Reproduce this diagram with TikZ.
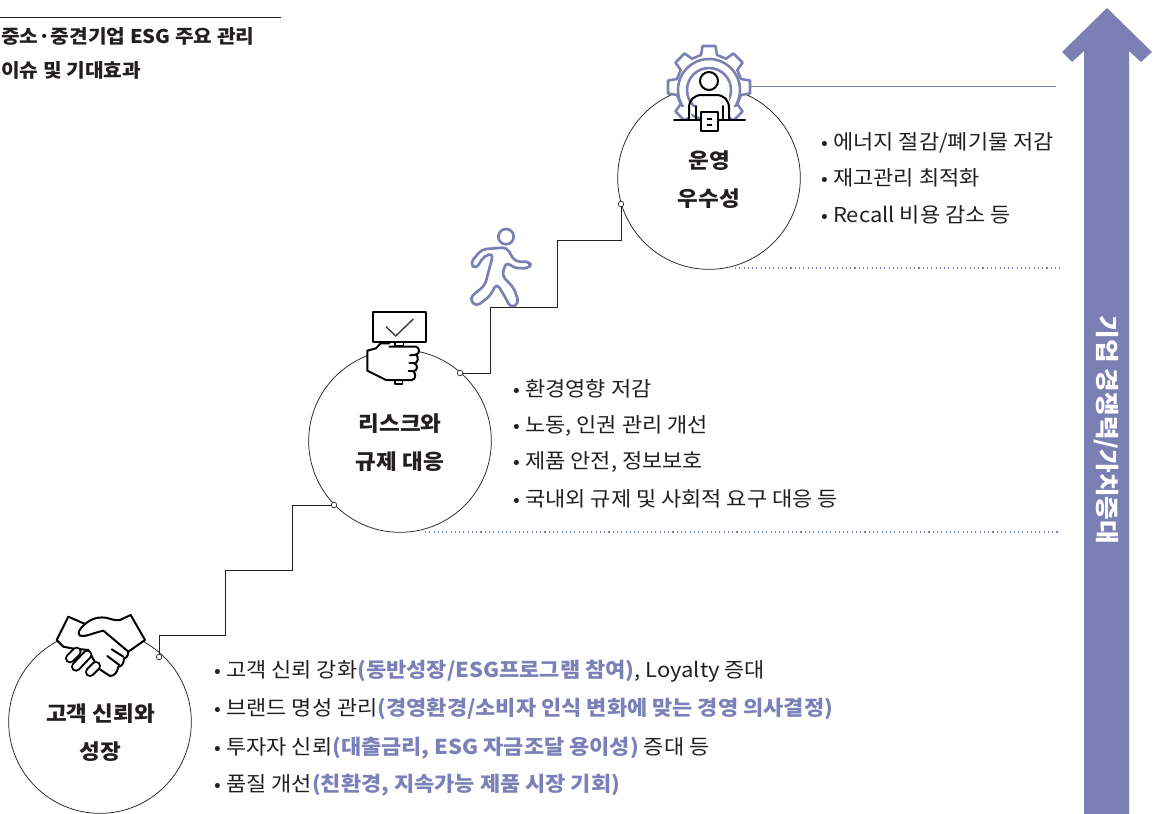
\documentclass[tikz,border=0pt]{standalone}
\usepackage{fontspec}
\setmainfont[FakeStretch=1.07]{Noto Sans CJK KR}
\definecolor{vio}{HTML}{7A7FB4}
\definecolor{viotext}{HTML}{7B80B8}
\definecolor{ink}{HTML}{231F20}
\newcommand{\hl}[1]{{\bfseries\color{viotext}#1}}
\newcommand{\bul}{\makebox[9pt][l]{\fontsize{14}{14}\selectfont •}}
\tikzset{
  stage/.style={circle,draw=ink,line width=0.55pt,minimum size=137pt,inner sep=0pt},
  stagetext/.style={inner sep=0pt,align=center,font=\fontsize{15.8}{28.5}\selectfont\bfseries,text=ink},
  stepline/.style={draw=ink,line width=0.6pt},
  joint/.style={circle,draw=ink,fill=white,line width=0.5pt,minimum size=4.2pt,inner sep=0pt},
  item/.style={anchor=base west,inner sep=0pt,text=ink,font=\fontsize{15.4}{16}\selectfont},
  heading/.style={anchor=base west,inner sep=0pt,text=ink,font=\fontsize{14.2}{15}\selectfont\bfseries},
  dotrule/.style={draw=vio,line width=0.8pt,dash pattern=on 0.8pt off 2.4pt},
  icon/.style={draw=black,line width=1.5pt,line join=round,line cap=round},
  vicon/.style={draw=vio,line width=1.9pt,line join=round,line cap=round},
}
\begin{document}
\begin{tikzpicture}[x=0.75pt,y=-0.75pt]
\useasboundingbox (0,0) rectangle (1158,814);
% heading
\coordinate (ruleA) at (0,17); \coordinate (ruleB) at (281,17);
\draw[ink,line width=0.5pt] (ruleA) -- (ruleB);
\node[heading] (t1) at (1,43) {중소·중견기업 ESG 주요 관리};
\node[heading] (t2) at (1,77) {이슈 및 기대효과};
% big arrow
\fill[vio] (1107,8) -- (1152,52) -- (1141,62) -- (1129,51) -- (1129,814) -- (1084,814) -- (1084,51) -- (1072,62) -- (1062,52) -- cycle;
\node[rotate=-90,text=white,font=\fontsize{18}{20}\selectfont\bfseries,inner sep=0pt] (arrowlabel) at (1106,430) {기업 경쟁력/가치증대};
% dotted and solid rules
\coordinate (d1a) at (735,268); \coordinate (d1b) at (1060,268);
\coordinate (d2a) at (425,532); \coordinate (d2b) at (1060,532);
\coordinate (p1a) at (751,86); \coordinate (p1b) at (1056,86);
\draw[dotrule] (d1a) -- (d1b);
\draw[dotrule] (d2a) -- (d2b);
\draw[vio,line width=0.7pt] (p1a) -- (p1b);
% circles
\node[stage] (c1) at (100,722) {};
\node[stage] (c2) at (400,441) {};
\node[stage] (c3) at (709,178) {};
\node[stagetext] (c1t) at (100.5,733) {고객 신뢰와\\성장};
\node[stagetext] (c2t) at (400,443) {리스크와\\규제 대응};
\node[stagetext] (c3t) at (709,179.5) {운영\\우수성};
% steps
\node[joint] (j1) at (159,657) {};
\node[joint] (j2) at (334,505) {};
\node[joint] (j3) at (460,373) {};
\node[joint] (j4) at (621,204) {};
\draw[stepline] (j1) -- (159,635) -- (225,635) -- (225,570) -- (292,570) -- (292,505) -- (j2);
\draw[stepline] (j3) -- (490,373) -- (490,307) -- (557,307) -- (557,240) -- (621,240) -- (j4);
% texts
\node[item] (a1) at (821,149) {\bul 에너지 절감/폐기물 저감};
\node[item] (a2) at (821,185) {\bul 재고관리 최적화};
\node[item] (a3) at (821,222) {\bul Recall 비용 감소 등};
\node[item] (b1) at (513,396) {\bul 환경영향 저감};
\node[item] (b2) at (513,432) {\bul 노동, 인권 관리 개선};
\node[item] (b3) at (513,468) {\bul 제품 안전, 정보보호};
\node[item] (b4) at (513,506) {\bul 국내외 규제 및 사회적 요구 대응 등};
\node[item] (e1) at (214,677) {\bul 고객 신뢰 강화\hl{(동반성장/ESG프로그램 참여)}, Loyalty 증대};
\node[item] (e2) at (214,715) {\bul 브랜드 명성 관리\hl{(경영환경/소비자 인식 변화에 맞는 경영 의사결정)}};
\node[item] (e3) at (214,754) {\bul 투자자 신뢰\hl{(대출금리, ESG 자금조달 용이성)} 증대 등};
\node[item] (e4) at (214,791) {\bul 품질 개선\hl{(친환경, 지속가능 제품 시장 기회)}};
% gear icon
\begin{scope}
\clip (660,40) rectangle (760,120);
\begin{scope}[shift={(709,87)}]
\draw[vicon,fill=white] (-14:33)
  \foreach \a in {0,45,...,315}{ -- ({\a-14}:33) -- ({\a-9}:41.5) -- ({\a+9}:41.5) -- ({\a+14}:33) } -- cycle;
\end{scope}
\begin{scope}
\clip (660,40) rectangle (760,106);
\draw[vicon] (709,90) circle (31);
\draw[vicon] (709,90) circle (22);
\end{scope}
\end{scope}
\fill[white] (689,120) -- (689,108) arc[start angle=180,end angle=90,radius=13] -- (716,95) arc[start angle=90,end angle=0,radius=13] -- (729,120) -- cycle;
\fill[white] (709,81) circle (11);
\draw[icon] (709,81) circle (9);
\draw[icon] (689,120) -- (689,108) .. controls (689,100) and (694,95) .. (702,95) -- (716,95) .. controls (724,95) and (729,100) .. (729,108) -- (729,120);
\draw[icon] (696,106) -- (696,120);
\draw[icon] (723,106) -- (723,120);
\draw[icon] (674,120) -- (745,120);
\draw[icon,fill=white] (701,112) rectangle (718,131);
\draw[icon,line width=1.3pt,line cap=butt] (707,119) -- (712,119);
\draw[icon,line width=1.3pt,line cap=butt] (707,125) -- (712,125);
% runner
\begin{scope}[shift={(350,220)},x=0.25pt,y=-0.25pt]
\draw[vicon,line width=2pt] (468,50) circle (23);
\draw[vicon,line width=2pt,rounded corners=3.5pt,fill=white]
 (395,88) -- (360,130) -- (377,148) -- (402,108) -- (430,100) -- (405,195) -- (358,235) -- (378,260) -- (420,228) -- (440,190) -- (466,232) -- (482,264) -- (507,250) -- (492,205) -- (455,165) -- (470,125) -- (490,144) -- (540,145) -- (542,125) -- (495,125) -- (470,82) -- cycle;
\end{scope}
% sign in fist
\begin{scope}[shift={(350,220)},x=0.25pt,y=-0.25pt]
\draw[icon,fill=white,line cap=butt] (68,277) rectangle (228,367);
\draw[draw=ink!85,line width=1.1pt,line join=miter] (108,320) -- (137,348) -- (190,297);
\draw[icon,fill=white,line width=1.2pt] (135,367) rectangle (160,378);
\draw[icon,fill=white,line width=1.2pt] (135,480) rectangle (158,492);
\draw[icon,fill=white] (118,370) -- (92,370) -- (78,385) -- (52,392) -- (52,452) -- (72,462) -- (108,480) -- (186,480) .. controls (198,478) and (198,460) .. (190,454) .. controls (204,452) and (204,434) .. (193,430) .. controls (206,428) and (206,410) .. (198,404) .. controls (210,402) and (210,382) .. (198,380) -- (118,380);
\draw[icon] (198,404) -- (180,406);
\draw[icon] (193,430) -- (178,430);
\draw[icon] (190,454) -- (176,454);
\end{scope}
% handshake
\begin{scope}[shift={(30,590)},x=0.25pt,y=-0.25pt]
\draw[icon,fill=white] (80,150) -- (115,80) -- (165,102) .. controls (185,85) and (210,78) .. (235,85) .. controls (250,90) and (262,92) .. (270,90) -- (302,75) -- (345,150) -- (295,185) .. controls (295,195) and (290,205) .. (282,205) .. controls (282,220) and (275,230) .. (265,230) .. controls (262,245) and (255,258) .. (240,258) -- (205,235) -- (175,180) -- (125,175) -- (100,170) -- cycle;
\draw[icon] (165,102) .. controls (150,115) and (140,130) .. (150,137) .. controls (165,142) and (185,130) .. (220,122) -- (295,185);
\draw[icon] (245,178) -- (280,200);
\draw[icon] (232,198) -- (268,225);
\foreach \xa/\ya/\xb/\yb in {120/205/140/185, 138/230/172/194, 180/246/198/228}{
  \draw[black,line width=7.5pt,line cap=round] (\xa,\ya) -- (\xb,\yb);
  \draw[white,line width=4.5pt,line cap=round] (\xa,\ya) -- (\xb,\yb);
}
\end{scope}
\end{tikzpicture}
\end{document}
